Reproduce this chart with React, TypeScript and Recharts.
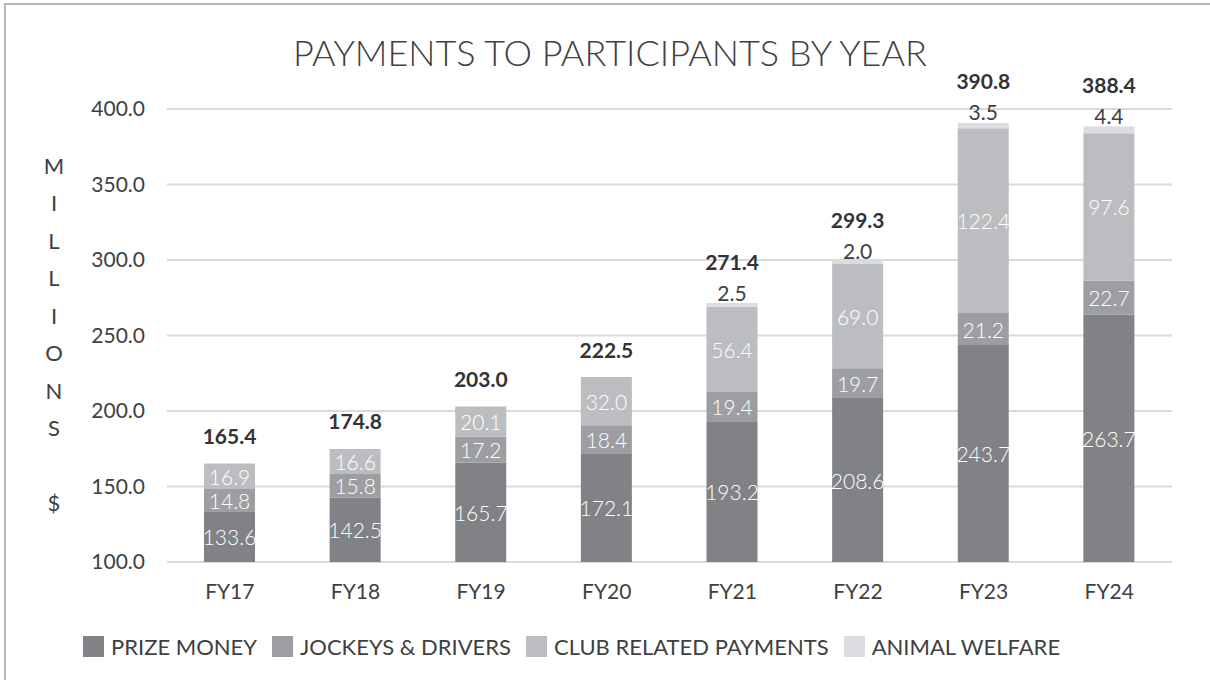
/* eslint-disable @typescript-eslint/no-explicit-any */
import { BarChart, Bar, XAxis, YAxis, CartesianGrid, LabelList, Legend } from "recharts";

const years = ["FY17", "FY18", "FY19", "FY20", "FY21", "FY22", "FY23", "FY24"];
const prizeMoney = [133.6, 142.5, 165.7, 172.1, 193.2, 208.6, 243.7, 263.7];
const jockeysDrivers = [14.8, 15.8, 17.2, 18.4, 19.4, 19.7, 21.2, 22.7];
const clubPayments = [16.9, 16.6, 20.1, 32.0, 56.4, 69.0, 122.4, 97.6];
const animalWelfare = [0, 0, 0, 0, 2.5, 2.0, 3.5, 4.4];
const totals = [165.4, 174.8, 203.0, 222.5, 271.4, 299.3, 390.8, 388.4];
const yTicks = [100, 150, 200, 250, 300, 350, 400];
const axisTitle = "MILLIONS $";

const series = [
  { key: "prize", name: "PRIZE MONEY", color: "#818286" },
  { key: "jockeys", name: "JOCKEYS & DRIVERS", color: "#9d9ea2" },
  { key: "club", name: "CLUB RELATED PAYMENTS", color: "#bcbdc0" },
  { key: "welfare", name: "ANIMAL WELFARE", color: "#dcdde0" },
];

const data = years.map((year, i) => ({
  year,
  prize: prizeMoney[i],
  jockeys: jockeysDrivers[i],
  club: clubPayments[i],
  welfare: animalWelfare[i],
  total: totals[i],
}));

const FONT = "Lato, 'Open Sans', sans-serif";
const TEXT = "#404040";
const PLOT_BOTTOM = 562;

const fmt = (v: any) => Number(v).toFixed(1);

// label props differ a bit between recharts versions, so read the box either way
const box = (p: any) => {
  const v = p.viewBox ?? p;
  const x = Number(v.x ?? p.x);
  const y = Number(v.y ?? p.y);
  const w = Number(v.width ?? p.width);
  const h = Number(v.height ?? p.height);
  return { x, w, h: Math.abs(h), top: Math.min(y, y + h), bottom: Math.max(y, y + h) };
};

const insideText = (x: number, y: number, value: any) => (
  <text
    x={x}
    y={y}
    fill="#fff"
    textAnchor="middle"
    dominantBaseline="central"
    fontFamily={FONT}
    fontWeight={300}
    fontSize={21}
  >
    {fmt(value)}
  </text>
);

// prize money starts below the 100 axis, so centre it on the visible part
const PrizeLabel = (p: any) => {
  const { x, w, top, bottom } = box(p);
  return insideText(x + w / 2, (top + Math.min(bottom, PLOT_BOTTOM)) / 2, p.value);
};

const CenterLabel = (p: any) => {
  const { x, w, top, bottom } = box(p);
  return insideText(x + w / 2, (top + bottom) / 2, p.value);
};

const WelfareLabel = (p: any) => {
  if (!Number(p.value)) return null;
  const { x, w, top } = box(p);
  return (
    <text
      x={x + w / 2}
      y={top - 11}
      fill={TEXT}
      textAnchor="middle"
      dominantBaseline="central"
      fontFamily={FONT}
      fontWeight={400}
      fontSize={21}
    >
      {fmt(p.value)}
    </text>
  );
};

// hung off the club bar (welfare bars of 0 get no labels); value is the total
const TotalLabel = (p: any) => {
  const { x, w, h, top } = box(p);
  const i = totals.indexOf(Number(p.value));
  const welfare = animalWelfare[i] ?? 0;
  const perUnit = h / clubPayments[i];
  const stackTop = top - welfare * perUnit;
  const lift = welfare > 0 ? 42 : 28;
  return (
    <text
      x={x + w / 2}
      y={stackTop - lift}
      fill="#333"
      textAnchor="middle"
      dominantBaseline="central"
      fontFamily={FONT}
      fontWeight={700}
      fontSize={21}
    >
      {fmt(p.value)}
    </text>
  );
};

const AxisTitle = () => (
  <g>
    {axisTitle.split("").map((ch, i) => (
      <text
        key={i}
        x={54}
        y={165 + i * 37.5}
        fill={TEXT}
        textAnchor="middle"
        dominantBaseline="central"
        fontFamily={FONT}
        fontWeight={400}
        fontSize={22}
      >
        {ch}
      </text>
    ))}
  </g>
);

const order = (item: any) => series.findIndex((s) => s.name === item.value);

const LegendContent = ({ payload }: any) => (
  <div
    style={{
      display: "flex",
      alignItems: "center",
      paddingLeft: 83,
      fontFamily: FONT,
      fontWeight: 400,
      fontSize: 22,
      color: TEXT,
    }}
  >
    {[...(payload ?? [])]
      .sort((a: any, b: any) => order(a) - order(b))
      .map((item: any) => (
        <div key={item.value} style={{ display: "flex", alignItems: "center", marginRight: 15 }}>
          <span style={{ width: 21, height: 21, background: item.color, marginRight: 7 }} />
          <span>{item.value}</span>
        </div>
      ))}
  </div>
);

export default function App() {
  return (
    <div
      style={{
        position: "absolute",
        left: 0,
        top: 0,
        width: 1210,
        height: 680,
        background: "#fff",
        overflow: "hidden",
      }}
    >
      {/* frame: only top and left edges show */}
      <div
        style={{
          position: "absolute",
          left: 4,
          top: 3,
          width: 1300,
          height: 800,
          borderTop: "2px solid #b5b5b7",
          borderLeft: "2px solid #b5b5b7",
        }}
      />

      <div
        style={{
          position: "absolute",
          left: 0,
          top: 34,
          width: 1220,
          textAlign: "center",
          fontFamily: FONT,
          fontWeight: 300,
          fontSize: 36,
          lineHeight: "36px",
          color: TEXT,
        }}
      >
        PAYMENTS TO PARTICIPANTS BY YEAR
      </div>

      <div style={{ position: "absolute", left: 0, top: 0 }}>
        <BarChart
          width={1210}
          height={680}
          data={data}
          margin={{ top: 109, right: 38, bottom: 68, left: 0 }}
          barSize={51}
        >
          <CartesianGrid vertical={false} stroke="#dadada" strokeWidth={2} />
          <XAxis
            dataKey="year"
            height={50}
            axisLine={false}
            tickLine={false}
            tickSize={0}
            tickMargin={22}
            tick={{ fill: TEXT, fontFamily: FONT, fontWeight: 400, fontSize: 21 }}
          />
          <YAxis
            width={167}
            domain={[100, 400]}
            ticks={yTicks}
            allowDataOverflow
            axisLine={false}
            tickLine={false}
            tickSize={0}
            tickMargin={22}
            tickFormatter={fmt}
            tick={{ fill: TEXT, fontFamily: FONT, fontWeight: 400, fontSize: 21 }}
            label={<AxisTitle />}
          />
          <Legend
            layout="horizontal"
            verticalAlign="middle"
            align="center"
            wrapperStyle={{ left: 0, top: 633, width: 1210 }}
            content={<LegendContent />}
          />
          <Bar dataKey="prize" name={series[0].name} stackId="a" fill={series[0].color} isAnimationActive={false}>
            <LabelList dataKey="prize" content={<PrizeLabel />} />
          </Bar>
          <Bar dataKey="jockeys" name={series[1].name} stackId="a" fill={series[1].color} isAnimationActive={false}>
            <LabelList dataKey="jockeys" content={<CenterLabel />} />
          </Bar>
          <Bar dataKey="club" name={series[2].name} stackId="a" fill={series[2].color} isAnimationActive={false}>
            <LabelList dataKey="club" content={<CenterLabel />} />
            <LabelList dataKey="total" content={<TotalLabel />} />
          </Bar>
          <Bar dataKey="welfare" name={series[3].name} stackId="a" fill={series[3].color} isAnimationActive={false}>
            <LabelList dataKey="welfare" content={<WelfareLabel />} />
          </Bar>
        </BarChart>
      </div>
    </div>
  );
}
